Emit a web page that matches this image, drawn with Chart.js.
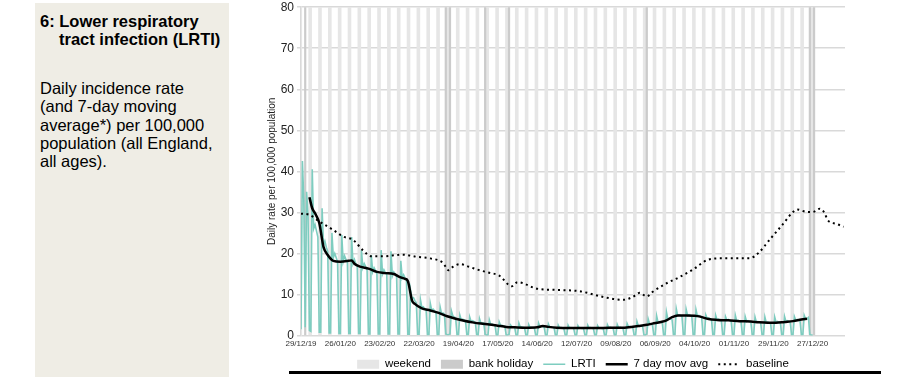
<!DOCTYPE html>
<html lang="en">
<head>
  <meta charset="UTF-8">
  <title>LRTI daily incidence rate</title>
  <script src="https://cdn.jsdelivr.net/npm/chart.js"></script>
  <style>
    body { margin: 0; width: 924px; height: 377px; overflow: hidden; position: relative; background: #fff;
           font-family: "Liberation Sans", Arial, sans-serif; color: #000; }
    #panel { position: absolute; left: 35px; top: 3px; width: 194px; height: 374px; background: #efede5; }
    #panel .title { position: absolute; left: 5px; top: 9px; font-weight: bold; font-size: 16.5px; line-height: 18.3px; white-space: nowrap; }
    #panel .body { position: absolute; left: 5px; top: 76px; font-size: 16.5px; line-height: 18.3px; white-space: nowrap; }
    #lrtiChart { position: absolute; left: 262px; top: -3px; }
    #rule { position: absolute; left: 289px; top: 371px; width: 592px; height: 3px; background: #000; }
  </style>
</head>
<body>
  <div id="panel">
    <div class="title">6: Lower respiratory<br><span style="padding-left:19px">tract infection (LRTI)</span></div>
    <div class="body">Daily incidence rate<br>(and 7-day moving<br>average*) per 100,000<br>population (all England,<br>all ages).</div>
  </div>
  <canvas id="lrtiChart" width="612" height="383"></canvas>
  <div id="rule"></div>

  <script>
    // x axis is days since 29/12/19 (a Sunday)
    const tickDays = [0, 28, 56, 84, 112, 140, 168, 196, 224, 252, 280, 308, 336, 364];
    const tickLabels = ['29/12/19', '26/01/20', '23/02/20', '22/03/20', '19/04/20', '17/05/20', '14/06/20',
                        '12/07/20', '09/08/20', '06/09/20', '04/10/20', '01/11/20', '29/11/20', '27/12/20'];

    const weekendDays = [0, 6, 7, 13, 14, 20, 21, 27, 28, 34, 35, 41, 42, 48, 49, 55, 56, 62, 63, 69, 70,
      76, 77, 83, 84, 90, 91, 97, 98, 104, 105, 111, 112, 118, 119, 125, 126, 132, 133, 139, 140,
      146, 147, 153, 154, 160, 161, 167, 168, 174, 175, 181, 182, 188, 189, 195, 196, 202, 203,
      209, 210, 216, 217, 223, 224, 230, 231, 237, 238, 244, 245, 251, 252, 258, 259, 265, 266,
      272, 273, 279, 280, 286, 287, 293, 294, 300, 301, 307, 308, 314, 315, 321, 322, 328, 329,
      335, 336, 342, 343, 349, 350, 356, 357, 363, 364];
    const bankHolidays = [3, 103, 106, 131, 148, 246, 362, 365];

    // daily LRTI rate, one row per week (Sun..Sat)
    const lrti = [
      1.5, 42.5, 33, 2, 35, 29, 1.2,
      1.0, 40.5, 26, 27, 25.5, 24, 0.8,
      0.8, 31, 22, 23, 21.5, 20.5, 0.6,
      0.6, 25, 19, 20, 19, 18, 0.5,
      0.5, 24.5, 18, 19.4, 18.5, 17.8, 0.5,
      0.5, 24, 17.5, 18.5, 17.5, 17, 0.5,
      0.5, 20.8, 16.5, 17.5, 16.8, 16, 0.4,
      0.4, 19.6, 15.5, 16.5, 15.8, 15, 0.4,
      0.4, 20.8, 15, 16, 15.3, 14.8, 0.4,
      0.4, 20.5, 14.5, 15.5, 15, 14.3, 0.4,
      0.4, 18.2, 14, 14.8, 14, 13.5, 0.3,
      0.3, 11, 9, 9.2, 8.5, 8, 0.3,
      0.3, 8.7, 6.8, 7, 6.6, 6.3, 0.2,
      0.2, 7.8, 6.1, 6.4, 6, 5.7, 0.2,
      0.2, 6.9, 5.3, 5.5, 5.2, 0.4, 0.2,
      0.2, 0.4, 6.0, 4.8, 4.5, 4.3, 0.2,
      0.2, 5.0, 3.8, 4.0, 3.8, 3.6, 0.2,
      0.2, 4.5, 3.4, 3.6, 3.4, 3.2, 0.2,
      0.1, 4.1, 3.0, 3.1, 3.0, 0.3, 0.1,
      0.1, 3.8, 2.7, 2.8, 2.6, 2.5, 0.1,
      0.1, 3.3, 2.4, 2.5, 2.3, 2.2, 0.1,
      0.1, 0.3, 2.6, 2.2, 2.1, 2.0, 0.1,
      0.1, 3.0, 2.0, 2.1, 2.0, 1.9, 0.1,
      0.1, 2.7, 1.9, 2.0, 1.9, 1.8, 0.1,
      0.1, 3.0, 2.1, 2.3, 2.1, 2.0, 0.1,
      0.1, 2.8, 2.0, 2.1, 2.0, 1.9, 0.1,
      0.1, 2.5, 1.8, 1.9, 1.8, 1.7, 0.1,
      0.1, 2.5, 1.8, 1.9, 1.8, 1.7, 0.1,
      0.1, 2.4, 1.8, 1.8, 1.7, 1.7, 0.1,
      0.1, 2.5, 1.8, 1.9, 1.8, 1.7, 0.1,
      0.1, 2.4, 1.8, 1.8, 1.7, 1.7, 0.1,
      0.1, 2.6, 1.9, 2.0, 1.9, 1.8, 0.1,
      0.1, 2.7, 1.9, 2.0, 1.9, 1.8, 0.1,
      0.1, 2.9, 2.1, 2.2, 2.1, 2.0, 0.1,
      0.1, 3.4, 2.3, 2.4, 2.3, 2.2, 0.1,
      0.1, 0.4, 4.0, 2.8, 2.7, 2.6, 0.1,
      0.1, 4.8, 3.2, 3.4, 3.3, 3.1, 0.1,
      0.1, 5.7, 3.9, 4.1, 4.0, 3.8, 0.2,
      0.2, 6.5, 4.8, 5.0, 4.9, 4.7, 0.2,
      0.2, 6.4, 4.9, 5.1, 4.9, 4.7, 0.2,
      0.2, 6.3, 4.7, 4.9, 4.7, 4.5, 0.2,
      0.2, 5.0, 4.1, 4.3, 4.1, 3.9, 0.2,
      0.2, 4.9, 3.8, 4.0, 3.8, 3.6, 0.2,
      0.2, 4.6, 3.7, 3.9, 3.7, 3.5, 0.2,
      0.2, 4.9, 3.5, 3.7, 3.5, 3.4, 0.2,
      0.2, 4.6, 3.4, 3.6, 3.4, 3.3, 0.2,
      0.2, 4.5, 3.2, 3.4, 3.2, 3.1, 0.2,
      0.2, 4.5, 3.1, 3.3, 3.1, 3.0, 0.2,
      0.2, 4.5, 3.2, 3.4, 3.2, 3.1, 0.2,
      0.2, 4.6, 3.4, 3.6, 3.4, 3.3, 0.2,
      0.2, 4.6, 3.7, 3.9, 3.7, 3.6, 0.2,
      0.2, 4.9, 4.0, 4.1, 4.4, 0.2, 0.1,
      0.1
    ];

    const avgDays = [6, 8, 10, 13, 16, 19, 23, 28, 34, 36, 38, 42, 48, 54, 60, 66, 70, 74, 76, 79,
      81, 86, 92, 98, 104, 110, 116, 122, 128, 134, 140, 146, 152, 160, 168, 172, 176, 182, 190, 200,
      210, 220, 228, 235, 240, 246, 250, 256, 260, 264, 268, 274, 280, 284, 290, 296, 304, 312, 320, 326,
      332, 338, 344, 350, 356, 360];
    const avgValues = [33.7, 31, 29.8, 27.4, 21.6, 19.6, 18.2, 18.0, 18.2, 18.3, 17.5, 16.8, 16.3, 15.5, 15.2, 15.0, 14.3, 13.8, 13.3, 8.5,
      7.7, 6.6, 6.1, 5.5, 4.7, 4.1, 3.6, 3.2, 2.9, 2.7, 2.4, 2.1, 2.0, 1.9, 2.0, 2.3, 2.1, 1.9, 1.8, 1.8,
      1.8, 1.9, 1.9, 2.1, 2.3, 2.6, 2.9, 3.3, 3.7, 4.5, 4.9, 4.9, 4.8, 4.6, 4.0, 3.8, 3.7, 3.5, 3.4, 3.2,
      3.1, 3.1, 3.3, 3.5, 3.9, 4.1];

    const baseDays = [0, 6, 13, 23, 30, 37, 44, 50, 58, 72, 82, 92, 101, 105, 108, 113, 120, 127, 134, 141,
      150, 154, 168, 182, 198, 215, 229, 236, 241, 246, 250, 260, 269, 279, 289, 298, 319, 326, 333, 343,
      350, 353, 360, 364, 369, 372, 375, 381, 386];
    const baseValues = [29.7, 29.4, 27.8, 25.7, 24.1, 23.3, 20.8, 19.3, 19.3, 19.7, 19.2, 18.8, 17.7, 15.9, 16.7, 17.4, 16.7, 15.9, 15.3, 14.6,
      12.0, 13.0, 11.4, 11.1, 10.8, 9.4, 8.7, 9.4, 10.4, 9.5, 10.6, 12.7, 14.2, 16.1, 18.4, 18.8, 18.8, 20.3, 23.2, 27.2,
      30.1, 30.7, 30.1, 30.1, 30.9, 30.1, 28.0, 27.2, 26.5];

    Chart.defaults.font.family = '"Liberation Sans", Arial, sans-serif';

    const barBand = { type: 'bar', barPercentage: 1, categoryPercentage: 1, grouped: false,
                      borderWidth: 0, inflateAmount: 0.4 };

    new Chart(document.getElementById('lrtiChart'), {
      type: 'bar',
      data: {
        datasets: [
          Object.assign({}, barBand, { label: 'weekend', data: weekendDays.map(d => ({ x: d, y: 80 })),
            backgroundColor: '#e6e6e6', order: 5 }),
          Object.assign({}, barBand, { label: 'bank holiday', data: bankHolidays.map(d => ({ x: d, y: 80 })),
            backgroundColor: '#cbcbcb', order: 4 }),
          { type: 'line', label: 'LRTI', data: lrti.map((v, i) => ({ x: i, y: v })),
            borderColor: '#7ecdc0', borderWidth: 1.6, pointRadius: 0, order: 3 },
          { type: 'line', label: '7 day mov avg', data: avgDays.map((d, i) => ({ x: d, y: avgValues[i] })),
            borderColor: '#000', borderWidth: 2.5, pointRadius: 0, cubicInterpolationMode: 'monotone', order: 2 },
          { type: 'line', label: 'baseline', data: baseDays.map((d, i) => ({ x: d, y: baseValues[i] })),
            borderColor: '#000', borderWidth: 2, borderDash: [2, 3.5], pointRadius: 0,
            cubicInterpolationMode: 'monotone', order: 1 }
        ]
      },
      options: {
        responsive: false,
        animation: false,
        devicePixelRatio: 1,
        layout: { padding: { top: 0, right: 29, left: 0, bottom: 0 } },
        scales: {
          x: {
            type: 'linear', min: 0, max: 387, offset: false,
            afterBuildTicks: s => { s.ticks = tickDays.map(v => ({ value: v })); },
            afterFit: s => { s.height = 13; },
            ticks: {
              autoSkip: false, maxRotation: 0, color: '#333', font: { size: 8 }, padding: 3,
              callback: v => { const i = tickDays.indexOf(v); return i >= 0 ? tickLabels[i] : ''; }
            },
            grid: { display: false, drawTicks: false, offset: false },
            border: { display: false }
          },
          y: {
            min: 0, max: 80,
            ticks: { stepSize: 10, color: '#222', font: { size: 12 }, padding: 3 },
            grid: { color: '#d9d9d9', lineWidth: 1.5, tickLength: 4 },
            border: { color: '#d9d9d9', width: 1.5 },
            title: { display: true, text: 'Daily rate per 100,000 population', color: '#222',
                     font: { size: 10 }, padding: { top: 4, bottom: 0 } },
            afterFit: s => { s.width = 39; }
          }
        },
        plugins: {
          tooltip: { enabled: false },
          legend: {
            position: 'bottom',
            fullSize: false,
            labels: {
              usePointStyle: true, pointStyleWidth: 22, boxHeight: 9, padding: 10,
              color: '#000', font: { size: 11.5 },
              generateLabels: chart => chart.data.datasets.map((ds, i) => ({
                text: ds.label,
                datasetIndex: i,
                pointStyle: ds.type === 'bar' ? 'rect' : 'line',
                fillStyle: ds.backgroundColor || ds.borderColor,
                strokeStyle: ds.borderColor || ds.backgroundColor,
                lineWidth: ds.type === 'bar' ? 0 : ds.borderWidth,
                lineDash: ds.borderDash || [],
                fontColor: '#000',
                hidden: false
              }))
            }
          }
        }
      }
    });
  </script>
</body>
</html>
